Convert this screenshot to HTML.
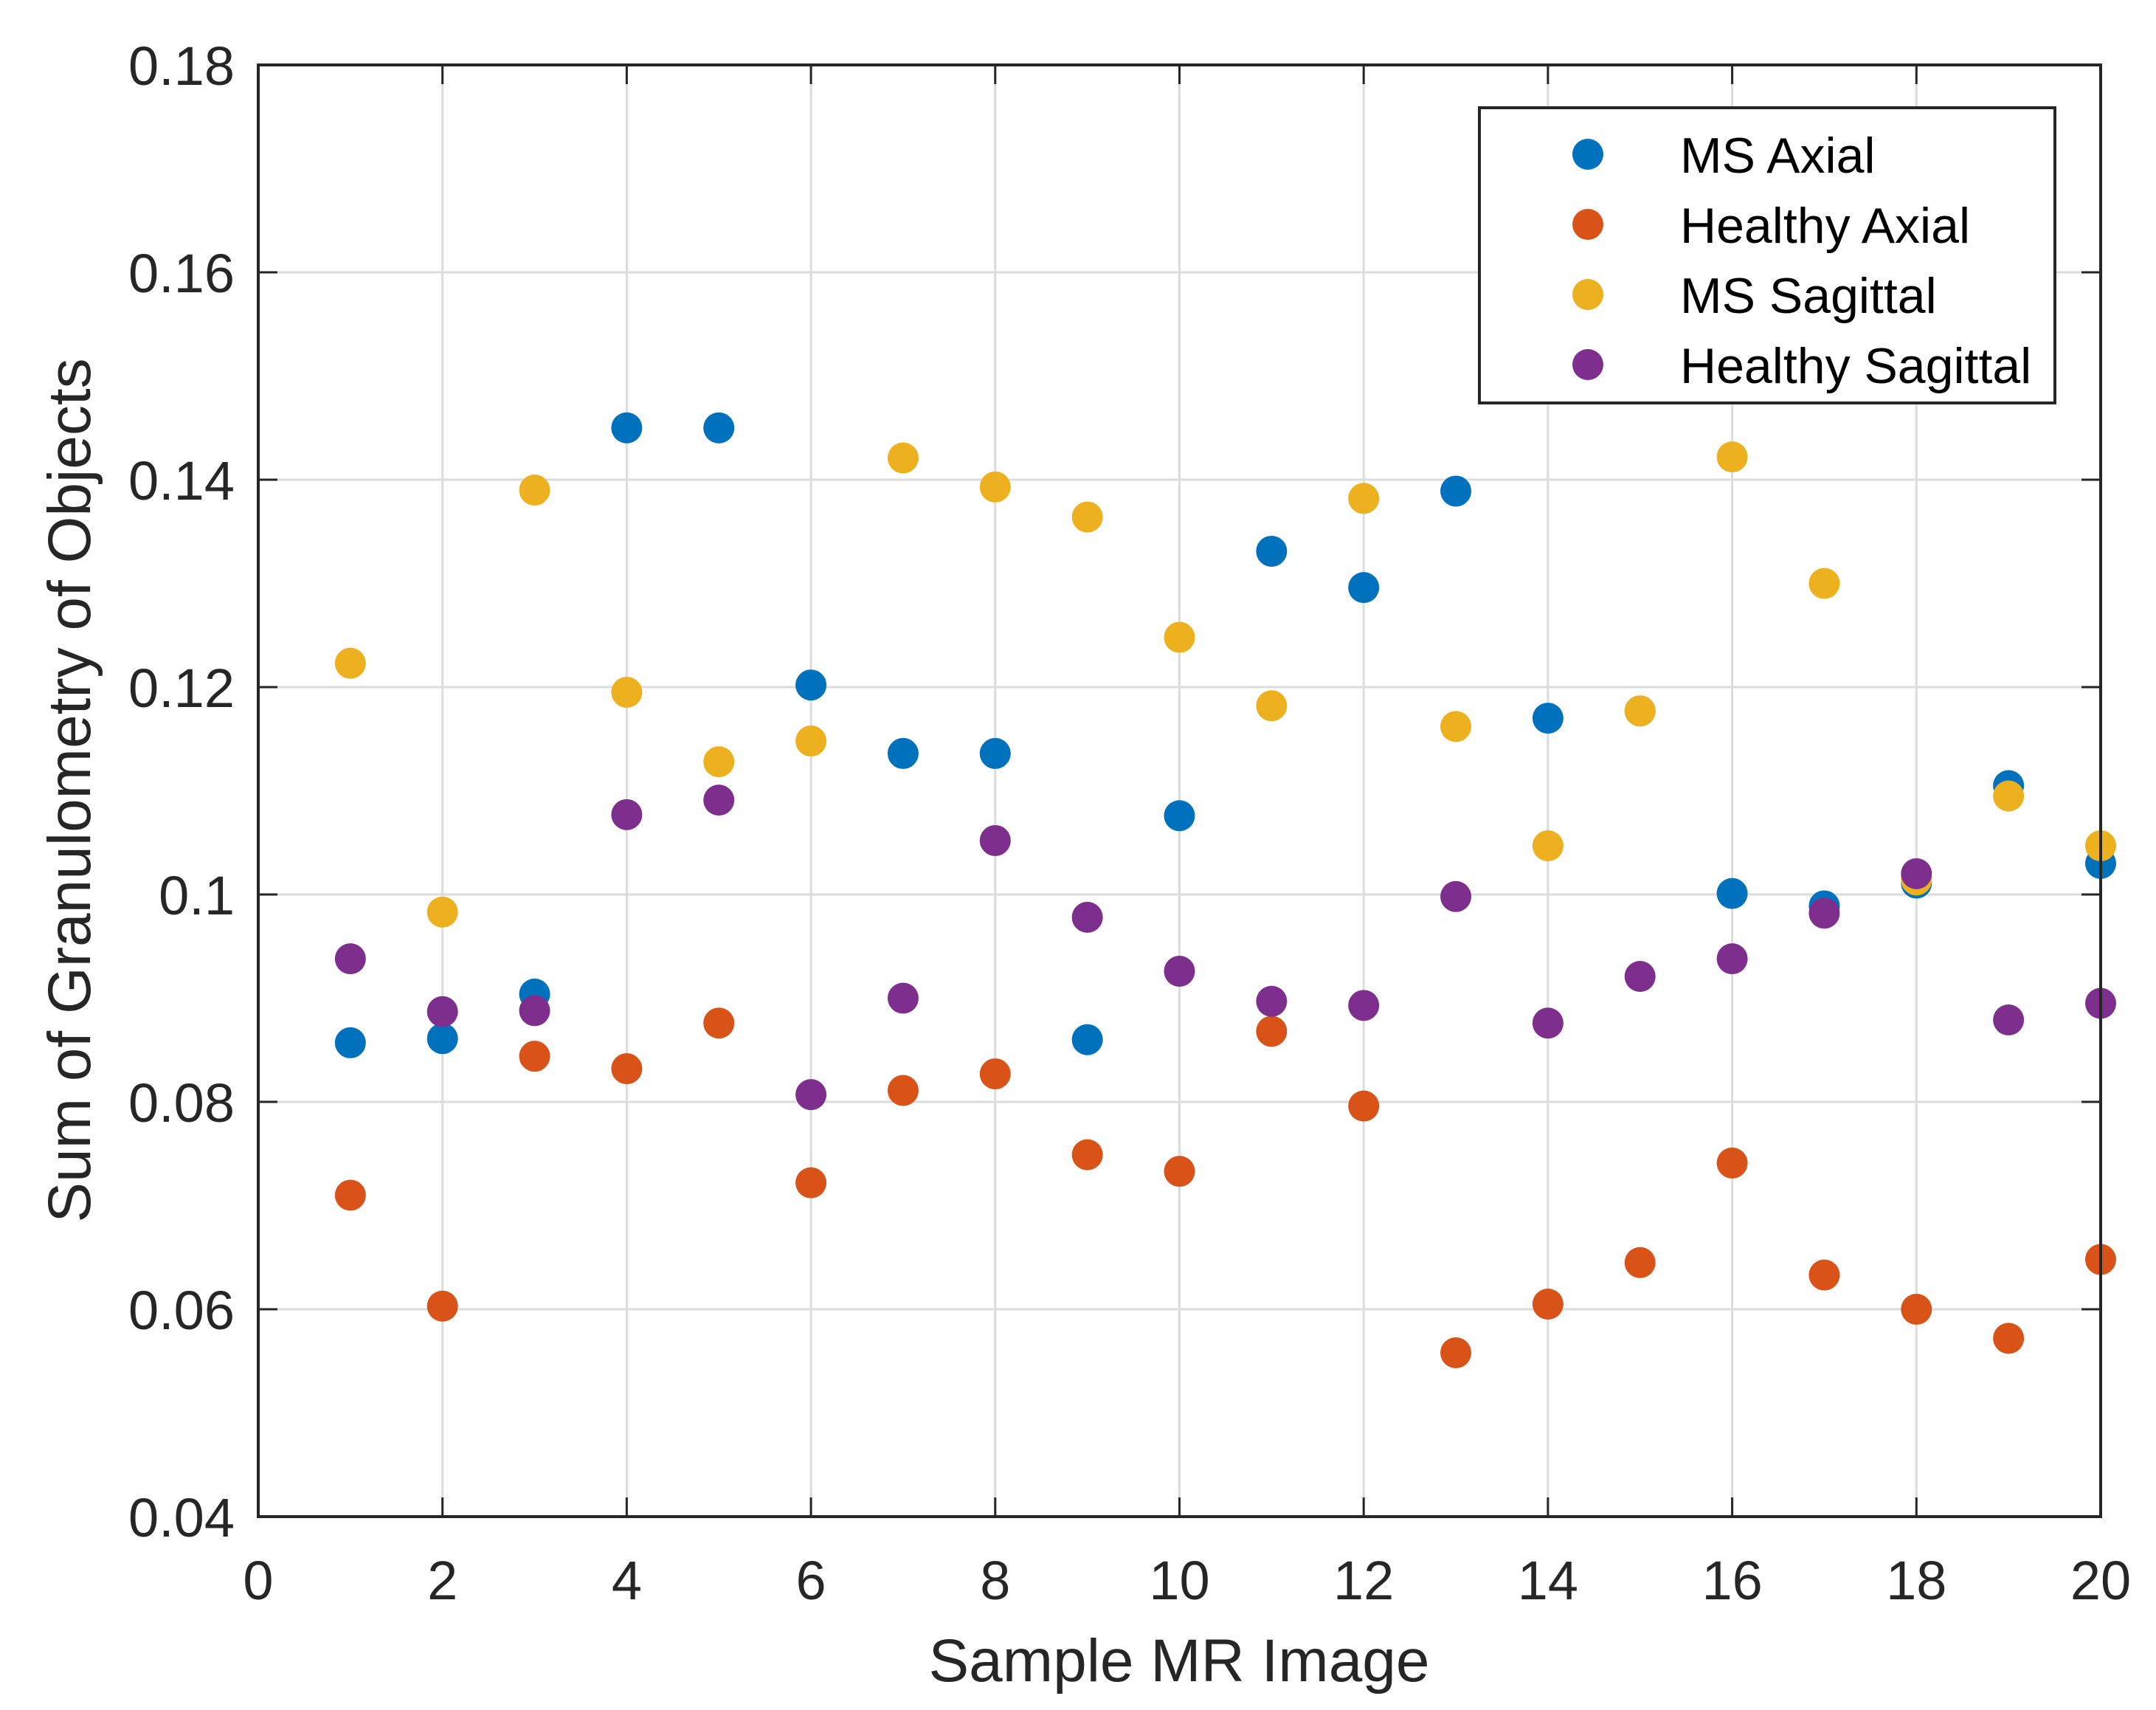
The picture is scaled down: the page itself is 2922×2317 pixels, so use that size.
<!DOCTYPE html>
<html><head><meta charset="utf-8"><style>
html,body{margin:0;padding:0;background:#fff;}
svg{display:block;font-family:"Liberation Sans",Arial,sans-serif;}
</style></head><body>
<svg id="chart" width="2922" height="2317" viewBox="0 0 2922 2317" xmlns="http://www.w3.org/2000/svg">
<rect width="2922" height="2317" fill="#fff"/>
<g id="grid"></g>
<g id="marks"></g>
<g id="axes"></g>
<text x="1598" y="2278" font-size="82" text-anchor="middle" fill="#262626">Sample MR Image</text>
<text transform="translate(122,1071) rotate(-90)" font-size="82" text-anchor="middle" fill="#262626">Sum of Granulometry of Objects</text>
<g>
<rect x="2005" y="146" width="780" height="400" fill="#fff" stroke="#262626" stroke-width="4"/>
<g id="legend-items"></g>
</g>
</svg>
<script>
const xTicks=[0,2,4,6,8,10,12,14,16,18,20];
const yTicks=[0.04,0.06,0.08,0.1,0.12,0.14,0.16,0.18];
const yTickLabels=["0.04","0.06","0.08","0.1","0.12","0.14","0.16","0.18"];
const samples=[1,2,3,4,5,6,7,8,9,10,11,12,13,14,15,16,17,18,19,20];
const seriesNames=["MS Axial","Healthy Axial","MS Sagittal","Healthy Sagittal"];
const seriesColors=["#0072bd","#d95319","#edb120","#7e2f8e"];
const msAxial=[0.0857,0.0861,0.0904,0.145,0.145,0.1202,0.1136,0.1136,0.0860,0.1076,0.1331,0.1296,0.1389,0.1170,0.1177,0.1001,0.0989,0.1011,0.1105,0.1030];
const healthyAxial=[0.0710,0.0603,0.0844,0.0832,0.0876,0.0722,0.0811,0.0827,0.0749,0.0733,0.0868,0.0796,0.0558,0.0605,0.0645,0.0741,0.0633,0.0600,0.0572,0.0648];
const msSagittal=[0.1223,0.0983,0.1390,0.1195,0.1128,0.1148,0.1421,0.1393,0.1364,0.1248,0.1182,0.1382,0.1162,0.1047,0.1177,0.1422,0.1300,0.1014,0.1095,0.1047];
const healthySagittal=[0.0938,0.0887,0.0888,0.1077,0.1091,0.0807,0.0900,0.1052,0.0978,0.0926,0.0897,0.0893,0.0998,0.0876,0.0921,0.0938,0.0982,0.1020,0.0879,0.0895];
const allSeries=[msAxial,healthyAxial,msSagittal,healthySagittal];

const L=350,R=2847,T=88,B=2055;
const xMin=0,xMax=20,yMin=0.04,yMax=0.18;
const sx=v=>L+(v-xMin)/(xMax-xMin)*(R-L);
const sy=v=>B-(v-yMin)/(yMax-yMin)*(B-T);
const NS="http://www.w3.org/2000/svg";
function mk(tag,attrs,parent){const e=document.createElementNS(NS,tag);for(const k in attrs)e.setAttribute(k,attrs[k]);parent.appendChild(e);return e;}
const grid=document.getElementById('grid'),axes=document.getElementById('axes'),marks=document.getElementById('marks');

xTicks.forEach((t,i)=>{
  const x=sx(t);
  const g=mk('line',{x1:x,x2:x,y1:T,y2:B,stroke:'#dcdcdc','stroke-width':3},grid);
  
  
  mk('line',{x1:x,x2:x,y1:B,y2:B-26,stroke:'#262626','stroke-width':3},axes);
  mk('line',{x1:x,x2:x,y1:T,y2:T+26,stroke:'#262626','stroke-width':3},axes);
  const lbl=mk('text',{x:x,y:B+112,'font-size':74,'text-anchor':'middle',fill:'#262626'},axes);
  lbl.textContent=String(t);
  
  
});
yTicks.forEach((t,i)=>{
  const y=sy(t);
  const g=mk('line',{x1:L,x2:R,y1:y,y2:y,stroke:'#dcdcdc','stroke-width':3},grid);
  
  
  mk('line',{x1:L,x2:L+26,y1:y,y2:y,stroke:'#262626','stroke-width':3},axes);
  mk('line',{x1:R,x2:R-26,y1:y,y2:y,stroke:'#262626','stroke-width':3},axes);
  const lbl=mk('text',{x:L-32,y:y+27,'font-size':74,'text-anchor':'end',fill:'#262626'},axes);
  lbl.textContent=yTickLabels[i];
  
  
});
const frame=mk('rect',{x:L,y:T,width:R-L,height:B-T,fill:'none',stroke:'#262626','stroke-width':4},axes);



allSeries.forEach((vals,si)=>{
  vals.forEach((v,i)=>{
    const c=mk('circle',{cx:sx(samples[i]),cy:sy(v),r:21,fill:seriesColors[si]},marks);
    
    
  });
});

const li=document.getElementById('legend-items');
seriesNames.forEach((n,i)=>{
  const y=209+i*95;
  const c=mk('circle',{cx:2152,cy:y,r:21,fill:seriesColors[i]},li);
  
  
  const t=mk('text',{x:2277,y:y+25,'font-size':68,fill:'#000'},li);
  t.textContent=n;
  
  
});
</script>
</body></html>
